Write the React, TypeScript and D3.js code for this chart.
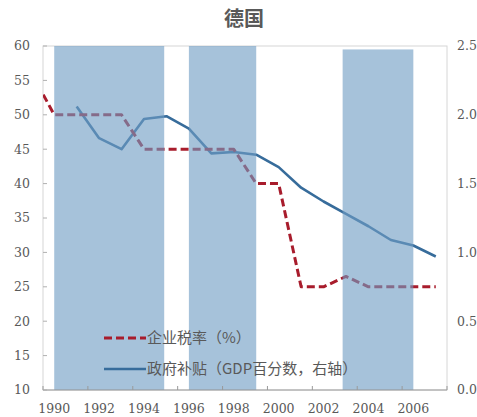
import { useEffect, useRef } from "react"
import * as d3 from "d3"

// corporate tax rate (%), left axis
const taxYears = [1989, 1990, 1991, 1992, 1993, 1994, 1995, 1996, 1997, 1998, 1999, 2000, 2001, 2002, 2003, 2004, 2005, 2006, 2007]
const taxRate = [56, 50, 50, 50, 50, 45, 45, 45, 45, 45, 40, 40, 25, 25, 26.5, 25, 25, 25, 25]

// government subsidies (% of GDP), right axis
const subsidyYears = [1991, 1992, 1993, 1994, 1995, 1996, 1997, 1998, 1999, 2000, 2001, 2002, 2003, 2004, 2005, 2006, 2007]
const subsidy = [2.06, 1.83, 1.75, 1.97, 1.99, 1.9, 1.72, 1.73, 1.71, 1.62, 1.47, 1.37, 1.28, 1.19, 1.09, 1.05, 0.97]

// shaded periods
const shadeStart = [1990, 1996, 2002.85]
const shadeEnd = [1994.9, 1999, 2006]
const shadeTop = [60, 60, 59.5]

const leftTicks = [10, 15, 20, 25, 30, 35, 40, 45, 50, 55, 60]
const rightTicks = [0, 0.5, 1, 1.5, 2, 2.5]
const yearLabels = [1990, 1992, 1994, 1996, 1998, 2000, 2002, 2004, 2006]

const title = "德国"
const legendTax = "企业税率（%）"
const legendSubsidy = "政府补贴（GDP百分数，右轴）"

export default function App() {
  const svgRef = useRef<SVGSVGElement>(null)

  useEffect(() => {
    if (!svgRef.current) return
    const svg = d3.select(svgRef.current)
    svg.selectAll("*").remove()

    const width = 477
    const height = 417
    const left = 43
    const right = 447
    const top = 46
    const bottom = 390

    const x = d3.scaleLinear().domain([1989.5, 2007.5]).range([left, right])
    const yL = d3.scaleLinear().domain([10, 60]).range([bottom, top])
    const yR = d3.scaleLinear().domain([0, 2.5]).range([bottom, top])

    const textColor = "#595959"
    const serif = "'DejaVu Serif', 'Liberation Serif', serif"
    const cjk = "'Noto Sans CJK SC', sans-serif"

    svg.attr("width", width).attr("height", height)
    svg.append("rect").attr("width", width).attr("height", height).attr("fill", "#fff")

    svg.append("defs")
      .append("clipPath")
      .attr("id", "plot-clip")
      .append("rect")
      .attr("x", left)
      .attr("y", top)
      .attr("width", right - left)
      .attr("height", bottom - top)

    // title
    svg.append("text")
      .attr("x", 244)
      .attr("y", 26)
      .attr("text-anchor", "middle")
      .attr("font-family", cjk)
      .attr("font-size", 20)
      .attr("font-weight", "bold")
      .attr("fill", textColor)
      .text(title)

    // plot frame
    svg.append("rect")
      .attr("x", left)
      .attr("y", top)
      .attr("width", right - left)
      .attr("height", bottom - top)
      .attr("fill", "none")
      .attr("stroke", "#d6d6d6")
      .attr("stroke-width", 1)

    const plot = svg.append("g").attr("clip-path", "url(#plot-clip)")

    const line = (xs: number[], ys: number[], yScale: d3.ScaleLinear<number, number>) =>
      d3.line<number>()
        .x((_, i) => x(xs[i]))
        .y((d) => yScale(d))(ys)

    plot.append("path")
      .attr("d", line(subsidyYears, subsidy, yR))
      .attr("fill", "none")
      .attr("stroke", "#376c9b")
      .attr("stroke-width", 2.6)
      .attr("stroke-linejoin", "round")

    plot.append("path")
      .attr("d", line(taxYears, taxRate, yL))
      .attr("fill", "none")
      .attr("stroke", "#a81c2c")
      .attr("stroke-width", 3)
      .attr("stroke-linejoin", "round")
      .attr("stroke-dasharray", "8,4")

    // shaded periods drawn over the lines
    shadeStart.forEach((s, i) => {
      plot.append("rect")
        .attr("x", x(s))
        .attr("y", yL(shadeTop[i]))
        .attr("width", x(shadeEnd[i]) - x(s))
        .attr("height", bottom - yL(shadeTop[i]))
        .attr("fill", "#6f9cc4")
        .attr("opacity", 0.62)
    })

    // bottom axis line + ticks
    svg.append("line")
      .attr("x1", left)
      .attr("x2", right)
      .attr("y1", bottom)
      .attr("y2", bottom)
      .attr("stroke", "#9a9a9a")
    d3.range(1989.5, 2008, 2).forEach((t) => {
      svg.append("line")
        .attr("x1", x(t))
        .attr("x2", x(t))
        .attr("y1", bottom)
        .attr("y2", bottom - 4)
        .attr("stroke", "#9a9a9a")
    })
    yearLabels.forEach((yr) => {
      svg.append("text")
        .attr("x", x(yr))
        .attr("y", 413)
        .attr("text-anchor", "middle")
        .attr("font-family", serif)
        .attr("font-size", 12.5)
        .attr("fill", textColor)
        .text(yr)
    })

    // left axis
    leftTicks.forEach((t) => {
      svg.append("line")
        .attr("x1", left)
        .attr("x2", left + 4)
        .attr("y1", yL(t))
        .attr("y2", yL(t))
        .attr("stroke", "#b0b0b0")
      svg.append("text")
        .attr("x", 30)
        .attr("y", yL(t))
        .attr("dy", "0.35em")
        .attr("text-anchor", "end")
        .attr("font-family", serif)
        .attr("font-size", 12.5)
        .attr("fill", textColor)
        .text(t)
    })

    // right axis
    rightTicks.forEach((t) => {
      svg.append("text")
        .attr("x", 457)
        .attr("y", yR(t))
        .attr("dy", "0.35em")
        .attr("text-anchor", "start")
        .attr("font-family", serif)
        .attr("font-size", 12.5)
        .attr("fill", textColor)
        .text(t.toFixed(1))
    })

    // legend
    const lg = svg.append("g")
    lg.append("line")
      .attr("x1", 104)
      .attr("x2", 146)
      .attr("y1", 338)
      .attr("y2", 338)
      .attr("stroke", "#a81c2c")
      .attr("stroke-width", 3)
      .attr("stroke-dasharray", "8,4")
    lg.append("text")
      .attr("x", 147)
      .attr("y", 338)
      .attr("dy", "0.35em")
      .attr("font-family", cjk)
      .attr("font-size", 15)
      .attr("fill", textColor)
      .text(legendTax)
    lg.append("line")
      .attr("x1", 104)
      .attr("x2", 146)
      .attr("y1", 369)
      .attr("y2", 369)
      .attr("stroke", "#376c9b")
      .attr("stroke-width", 2.6)
    lg.append("text")
      .attr("x", 147)
      .attr("y", 369)
      .attr("dy", "0.35em")
      .attr("font-family", cjk)
      .attr("font-size", 15)
      .attr("fill", textColor)
      .text(legendSubsidy)
  }, [])

  return (
    <div style={{ position: "absolute", left: 0, top: 0 }}>
      <svg ref={svgRef} style={{ display: "block" }} />
    </div>
  )
}
